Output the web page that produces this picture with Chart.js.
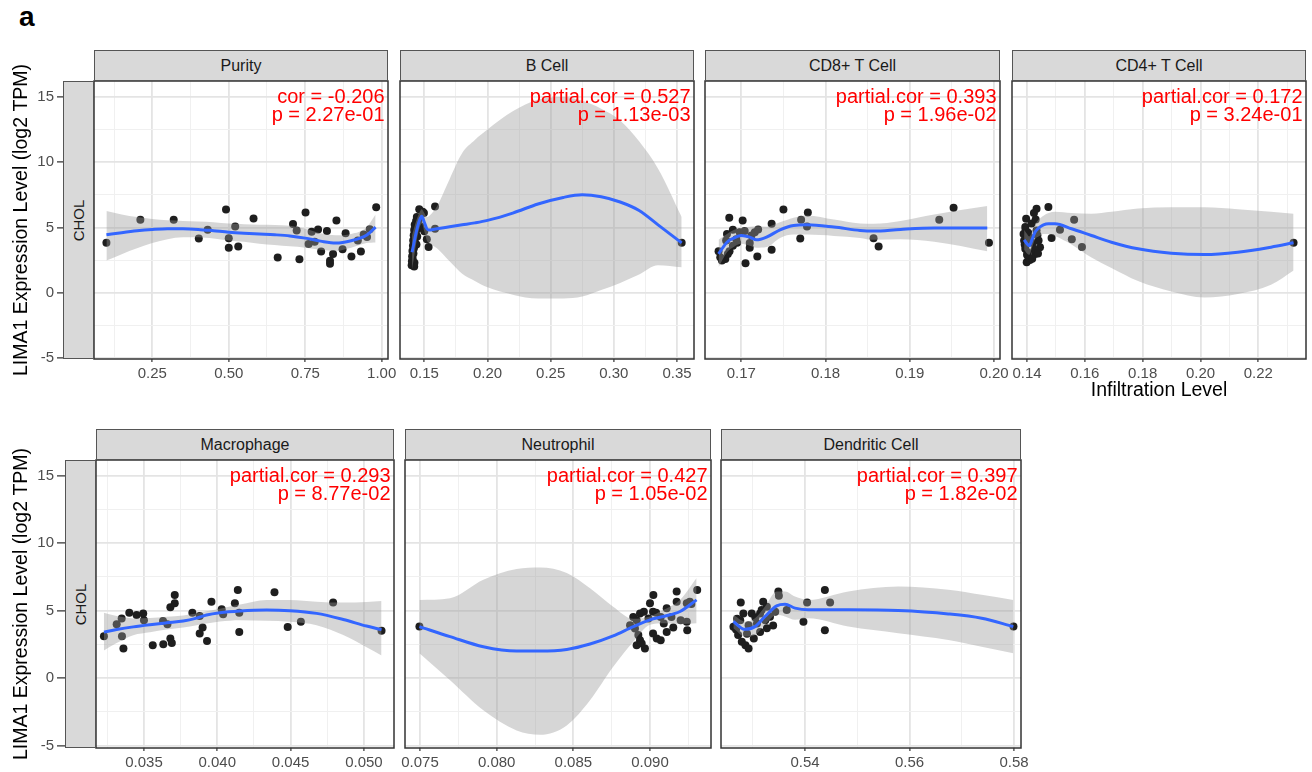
<!DOCTYPE html>
<html>
<head>
<meta charset="utf-8">
<script src="https://cdn.jsdelivr.net/npm/chart.js@4.4.1/dist/chart.umd.min.js"></script>
<style>
  body { margin: 0; background: #fff; width: 1312px; height: 772px; position: relative; overflow: hidden;
         font-family: "Liberation Sans", Arial, Helvetica, sans-serif; }
  canvas { position: absolute; }
  .strip { position: absolute; background: #d9d9d9; border: 1px solid #555; box-sizing: border-box;
           display: flex; align-items: center; justify-content: center; font-size: 16px; color: #1a1a1a; }
  .rowstrip span { display: block; transform: rotate(-90deg); font-size: 15px; white-space: nowrap; }
  .tag { position: absolute; left: 19px; top: 3px; font-size: 28px; font-weight: bold; line-height: 28px; }
</style>
</head>
<body>
<div class="tag">a</div>
<script>
// facet titles and stats text
const panelTitles = ['Purity', 'B Cell', 'CD8+ T Cell', 'CD4+ T Cell', 'Macrophage', 'Neutrophil', 'Dendritic Cell'];
const corLabels = ['cor = -0.206', 'partial.cor = 0.527', 'partial.cor = 0.393', 'partial.cor = 0.172',
                   'partial.cor = 0.293', 'partial.cor = 0.427', 'partial.cor = 0.397'];
const pLabels = ['p = 2.27e-01', 'p = 1.13e-03', 'p = 1.96e-02', 'p = 3.24e-01',
                 'p = 8.77e-02', 'p = 1.05e-02', 'p = 1.82e-02'];
const rowLabel = 'CHOL';
const yTitle = 'LIMA1 Expression Level (log2 TPM)';
const xTitle = 'Infiltration Level';

// Purity
const purityX = [0.100,0.211,0.320,0.402,0.431,0.491,0.500,0.500,0.521,0.531,0.581,0.660,0.710,0.722,0.731,0.751,0.761,0.771,0.781,0.792,0.802,0.821,0.831,0.831,0.841,0.852,0.872,0.882,0.901,0.922,0.932,0.941,0.952,0.961,0.982];
const purityY = [3.82,5.59,5.59,4.15,4.82,6.38,4.18,3.44,5.08,3.54,5.69,2.69,5.26,4.77,2.56,6.15,3.74,4.67,3.90,4.85,3.15,4.72,2.44,2.21,2.97,5.54,3.33,4.56,2.77,4.00,3.15,4.46,4.26,4.87,6.54];
const purityFitX = [0.10,0.15,0.20,0.25,0.30,0.35,0.40,0.45,0.50,0.55,0.60,0.65,0.70,0.75,0.80,0.85,0.90,0.95,0.98];
const purityFitY = [4.44,4.60,4.74,4.84,4.90,4.90,4.85,4.75,4.64,4.56,4.50,4.44,4.35,4.18,3.95,3.80,3.98,4.40,5.03];
const purityHi = [6.26,6.00,5.80,5.65,5.55,5.50,5.45,5.40,5.30,5.25,5.20,5.18,5.12,4.90,4.55,4.40,4.50,5.00,6.00];
const purityLo = [2.46,2.95,3.40,3.80,4.10,4.25,4.25,4.15,4.00,3.90,3.75,3.65,3.55,3.45,3.30,3.20,3.45,3.80,3.85];

// B Cell
const bcellX = [0.1400,0.1402,0.1404,0.1406,0.1408,0.1410,0.1412,0.1414,0.1416,0.1418,0.1420,0.1422,0.1424,0.1426,0.1428,0.1430,0.1432,0.1435,0.1438,0.1441,0.1444,0.1447,0.1450,0.1455,0.1460,0.1470,0.1487,0.1497,0.1500,0.1520,0.1534,0.1585,0.1585,0.1420,0.3537];
const bcellY = [2.1,2.4,2.8,3.2,2.6,3.6,4.0,3.0,4.4,3.4,4.8,2.3,5.2,3.8,4.2,5.0,4.6,5.5,3.7,5.8,4.3,4.9,5.3,5.6,6.4,5.1,6.2,6.1,4.7,4.1,3.5,6.6,4.9,2.0,3.82];
const bcellFitX = [0.1403,0.142,0.144,0.146,0.148,0.150,0.152,0.154,0.157,0.160,0.170,0.180,0.190,0.200,0.220,0.240,0.260,0.275,0.290,0.305,0.320,0.335,0.3537];
const bcellFitY = [3.1,3.9,4.8,5.5,5.85,5.4,4.9,4.8,4.85,4.9,5.05,5.2,5.35,5.54,6.1,6.8,7.3,7.5,7.35,6.95,6.3,5.2,3.82];
const bcellHi = [4.4,5.0,5.6,6.1,6.4,6.1,5.8,5.9,6.2,6.6,8.7,10.7,11.7,12.5,13.9,14.8,15.0,14.7,14.1,13.2,11.6,9.5,5.8];
const bcellLo = [1.8,2.8,4.0,4.9,5.3,4.7,4.0,3.8,3.6,3.4,2.4,1.45,0.9,0.41,-0.15,-0.45,-0.45,-0.3,0.2,0.75,1.4,2.1,1.95];

// CD8+ T Cell
const cd8X = [0.16857,0.17016,0.1750,0.1779,0.1771,0.1778,0.1770,0.1736,0.1736,0.1719,0.1705,0.1710,0.1710,0.1695,0.1690,0.1683,0.1682,0.1686,0.1681,0.1675,0.1673,0.1677,0.1698,0.1704,0.1712,0.1716,0.1720,0.1694,0.1857,0.1863,0.1935,0.1952,0.1994,0.1684,0.1690];
const cd8Y = [5.74,5.54,6.38,6.15,5.59,5.08,4.15,5.28,3.30,2.77,2.26,3.44,3.80,3.82,4.82,4.50,4.00,3.18,2.59,2.72,3.18,2.46,4.64,4.72,4.38,4.64,4.85,4.10,4.18,3.54,5.59,6.51,3.82,2.97,3.60];
const cd8FitX = [0.1673,0.1683,0.1691,0.1700,0.1710,0.1718,0.1730,0.1746,0.1762,0.1778,0.1810,0.1841,0.1857,0.1889,0.1929,0.1992];
const cd8FitY = [2.97,3.87,4.18,4.38,4.26,4.05,4.26,4.82,5.15,5.20,5.03,4.77,4.72,4.85,4.95,4.95];
const cd8Hi = [4.05,4.50,4.80,4.95,5.05,5.10,5.05,5.40,5.75,5.92,5.60,5.30,5.28,5.50,6.00,6.64];
const cd8Lo = [1.95,3.10,3.50,3.75,3.60,3.45,3.50,4.20,4.45,4.45,4.35,4.20,4.05,4.10,3.90,3.18];

// CD4+ T Cell
const cd4X = [0.1474,0.1433,0.1424,0.1397,0.1394,0.1388,0.1390,0.1394,0.1399,0.1405,0.1428,0.1445,0.1440,0.1433,0.1416,0.1408,0.1563,0.1514,0.1485,0.1555,0.1590,0.2322,0.1395,0.1402,0.1410,0.1420,0.1430,0.1436,0.1412,0.1400,0.1392,0.1418,0.1426,0.1404,0.1438];
const cd4Y = [6.56,6.44,6.10,5.67,5.03,4.50,4.00,3.36,2.33,2.70,2.97,3.49,4.00,4.77,5.30,4.26,5.59,4.82,4.20,4.10,3.50,3.82,4.80,3.10,2.50,3.80,5.60,4.40,3.90,2.90,3.70,2.60,3.30,4.60,3.00];
const cd4FitX = [0.1390,0.1400,0.1408,0.1418,0.1428,0.1440,0.1457,0.1475,0.1497,0.1554,0.1623,0.1692,0.1784,0.1899,0.2014,0.2129,0.2244,0.2322];
const cd4FitY = [4.05,3.75,3.60,4.10,4.65,4.95,5.20,5.28,5.28,4.90,4.38,3.87,3.36,3.03,2.92,3.10,3.49,3.82];
const cd4Hi = [4.8,4.5,4.3,4.7,5.2,5.6,5.9,6.1,6.2,6.1,6.05,6.2,6.45,6.55,6.55,6.4,6.2,6.05];
const cd4Lo = [3.3,3.0,2.9,3.5,4.1,4.3,4.5,4.5,4.35,3.7,2.7,1.9,0.9,0.1,-0.36,-0.1,0.6,1.7];

// Macrophage
const macroX = [0.03227,0.03314,0.03348,0.0335,0.0336,0.0340,0.0345,0.03495,0.0350,0.0356,0.0363,0.03632,0.0366,0.0368,0.0368,0.0369,0.0371,0.0371,0.0383,0.0388,0.0388,0.0390,0.0393,0.0396,0.0403,0.0404,0.0412,0.0414,0.0415,0.0415,0.0439,0.0448,0.0457,0.0479,0.0512];
const macroY = [3.11,4.00,4.43,3.11,2.19,4.85,4.68,4.80,4.30,2.44,4.23,2.51,4.00,5.25,2.94,2.61,6.17,5.55,4.85,4.60,3.31,3.76,2.76,5.67,5.10,4.73,5.55,6.54,4.85,3.43,6.37,3.80,4.18,5.60,3.51];
const macroFitX = [0.03227,0.03314,0.03427,0.03541,0.03655,0.03768,0.03859,0.03927,0.04018,0.04155,0.04336,0.04495,0.04677,0.04859,0.05018,0.0512];
const macroFitY = [3.41,3.60,3.80,3.96,4.10,4.23,4.45,4.68,4.85,4.98,5.05,5.00,4.80,4.35,3.86,3.60];
const macroHi = [4.85,4.60,4.43,4.45,4.55,4.65,4.80,4.95,5.15,5.45,5.80,5.80,5.67,5.60,5.65,5.72];
const macroLo = [2.06,2.60,3.18,3.40,3.60,3.75,3.93,4.05,4.20,4.30,4.25,4.18,3.93,3.20,2.30,1.69];

// Neutrophil
const neutroX = [0.07496,0.09022,0.0900,0.09174,0.09308,0.09174,0.09109,0.0924,0.08935,0.0896,0.0902,0.0904,0.08891,0.08913,0.0914,0.0887,0.0924,0.09243,0.09152,0.09109,0.0902,0.09044,0.0907,0.08924,0.08935,0.08913,0.08967,0.08946,0.0909,0.0907,0.0920,0.0926,0.0899,0.08902,0.0927];
const neutroY = [3.82,6.17,5.55,6.42,6.54,5.67,5.18,5.55,4.80,4.93,4.93,4.85,4.53,4.30,4.53,3.93,4.18,3.56,3.76,3.43,3.31,2.94,2.81,3.19,2.81,2.44,2.19,2.57,4.06,4.53,4.30,5.67,4.43,3.68,5.50];
const neutroFitX = [0.07496,0.07696,0.07913,0.0813,0.08283,0.08457,0.08609,0.0876,0.08891,0.0900,0.09087,0.09196,0.09304];
const neutroFitY = [3.82,3.08,2.33,2.01,2.01,2.13,2.53,3.13,3.82,4.32,4.57,4.94,5.80];
const neutroHi = [5.80,5.93,7.30,8.09,8.20,7.80,6.67,5.30,4.40,4.57,5.06,5.80,7.42];
const neutroLo = [1.84,-0.15,-2.38,-3.87,-4.19,-3.50,-1.64,0.84,2.70,3.95,4.07,4.02,4.07];

// Dendritic Cell
const dendX = [0.5277,0.5349,0.5350,0.5320,0.5438,0.5404,0.5365,0.5343,0.5397,0.5438,0.5263,0.5272,0.5282,0.5298,0.5279,0.5286,0.5292,0.5314,0.5327,0.5314,0.5324,0.5333,0.5308,0.5292,0.5276,0.5302,0.5799,0.5448,0.5327,0.5339,0.5270,0.5289,0.5317,0.5268,0.5305];
const dendY = [5.60,6.42,6.10,5.67,6.54,5.60,5.05,4.93,4.18,3.56,3.81,3.19,4.80,4.80,2.69,2.44,2.19,3.43,3.69,4.80,4.30,4.55,4.06,3.93,4.30,2.94,3.82,5.60,5.30,3.90,4.40,3.30,5.05,3.60,4.50];
const dendFitX = [0.52628,0.52852,0.53043,0.53234,0.53458,0.53617,0.53809,0.54064,0.54829,0.55786,0.56743,0.57381,0.57987];
const dendFitY = [4.19,3.62,3.82,4.57,5.36,5.48,5.19,5.06,5.06,5.01,4.76,4.44,3.82];
const dendHi = [4.69,4.19,4.44,5.31,6.43,6.43,6.05,5.80,6.43,6.80,6.55,6.18,5.80];
const dendLo = [3.70,3.08,3.20,3.95,4.69,4.57,4.32,4.44,3.82,3.33,2.83,2.33,1.84];

const series = [
  [purityX, purityY, purityFitX, purityFitY, purityHi, purityLo],
  [bcellX, bcellY, bcellFitX, bcellFitY, bcellHi, bcellLo],
  [cd8X, cd8Y, cd8FitX, cd8FitY, cd8Hi, cd8Lo],
  [cd4X, cd4Y, cd4FitX, cd4FitY, cd4Hi, cd4Lo],
  [macroX, macroY, macroFitX, macroFitY, macroHi, macroLo],
  [neutroX, neutroY, neutroFitX, neutroFitY, neutroHi, neutroLo],
  [dendX, dendY, dendFitX, dendFitY, dendHi, dendLo]
];

// panel boxes (plot area in page pixels) and axis settings
const boxes = [
  {l: 94,  t: 81,  r: 388,  b: 359, ymin: -5.08, ymax: 16.22, xmin: 0.0594,  xmax: 1.0206,  step: 0.125,  major: 0.25,  dec: 2, yaxis: true},
  {l: 400, t: 81,  r: 694,  b: 359, ymin: -5.08, ymax: 16.22, xmin: 0.13077, xmax: 0.36345, step: 0.025,  major: 0.05,  dec: 2},
  {l: 705, t: 81,  r: 1000, b: 359, ymin: -5.08, ymax: 16.22, xmin: 0.16569, xmax: 0.20071, step: 0.005,  major: 0.01,  dec: 2},
  {l: 1012,t: 81,  r: 1306, b: 359, ymin: -5.08, ymax: 16.22, xmin: 0.13481, xmax: 0.2365,  step: 0.01,   major: 0.02,  dec: 2, xtitle: true},
  {l: 96,  t: 460, r: 394,  b: 748, ymin: -5.17, ymax: 16.16, xmin: 0.03173, xmax: 0.05205, step: 0.0025, major: 0.005, dec: 3, yaxis: true},
  {l: 405, t: 460, r: 711,  b: 748, ymin: -5.17, ymax: 16.16, xmin: 0.07402, xmax: 0.09398, step: 0.0025, major: 0.005, dec: 3},
  {l: 721, t: 460, r: 1021, b: 748, ymin: -5.17, ymax: 16.16, xmin: 0.52392, xmax: 0.58134, step: 0.01,   major: 0.02,  dec: 2}
];

Chart.defaults.font.family = '"Liberation Sans", Arial, Helvetica, sans-serif';

const isMajor = (v, m) => Math.abs(v / m - Math.round(v / m)) < 1e-6;

// red stats text + dark panel border
const panelDecor = {
  id: 'panelDecor',
  afterDatasetsDraw(chart, args, opts) {
    const ctx = chart.ctx, a = chart.chartArea;
    ctx.save();
    ctx.fillStyle = '#ff0000';
    ctx.font = '20px "Liberation Sans", Arial, sans-serif';
    ctx.textAlign = 'right';
    ctx.textBaseline = 'alphabetic';
    ctx.fillText(opts.cor, a.right - 3.5, a.top + 21.5);
    ctx.fillText(opts.p, a.right - 3.5, a.top + 40);
    ctx.strokeStyle = '#333';
    ctx.lineWidth = 1.5;
    ctx.strokeRect(a.left, a.top, a.right - a.left, a.bottom - a.top);
    ctx.restore();
  }
};

function toXY(xs, ys) {
  return xs.map((x, i) => ({x: x, y: ys[i]}));
}

function addDiv(cls, l, t, w, h, html) {
  const d = document.createElement('div');
  d.className = cls;
  d.style.left = l + 'px'; d.style.top = t + 'px';
  d.style.width = w + 'px'; d.style.height = h + 'px';
  d.innerHTML = html;
  document.body.appendChild(d);
}

boxes.forEach((bx, i) => {
  const [px, py, fx, fy, hi, lo] = series[i];
  const padL = bx.yaxis ? 0 : 12, padR = 12, padT = 26;
  const yw = bx.yaxis ? bx.l - 6 : 0;
  const xh = bx.xtitle ? 47 : 26;
  const W = (bx.r - bx.l) + yw + padL + padR;
  const H = (bx.b - bx.t) + padT + xh;

  const cv = document.createElement('canvas');
  cv.width = W; cv.height = H;
  cv.style.width = W + 'px'; cv.style.height = H + 'px';
  cv.style.left = (bx.l - yw - padL) + 'px';
  cv.style.top = (bx.t - padT) + 'px';
  document.body.appendChild(cv);

  new Chart(cv, {
    type: 'scatter',
    data: {
      datasets: [
        {type: 'line', data: toXY(fx, fy), borderColor: '#3366ff', borderWidth: 3,
         pointRadius: 0, fill: false, cubicInterpolationMode: 'monotone'},
        {type: 'line', data: toXY(fx, hi), borderWidth: 0, borderColor: 'rgba(0,0,0,0)', pointRadius: 0,
         fill: '+1', backgroundColor: 'rgba(153,153,153,0.4)', cubicInterpolationMode: 'monotone'},
        {type: 'line', data: toXY(fx, lo), borderWidth: 0, borderColor: 'rgba(0,0,0,0)', pointRadius: 0,
         fill: false, cubicInterpolationMode: 'monotone'},
        {data: toXY(px, py), backgroundColor: '#1e1e1e', borderWidth: 0, pointRadius: 4}
      ]
    },
    options: {
      responsive: false,
      devicePixelRatio: 1,
      animation: false,
      layout: {padding: {left: padL, right: padR, top: padT, bottom: 0}},
      plugins: {
        legend: {display: false},
        tooltip: {enabled: false},
        panelDecor: {cor: corLabels[i], p: pLabels[i]}
      },
      scales: {
        x: {
          type: 'linear', min: bx.xmin, max: bx.xmax,
          border: {display: false},
          grid: {
            color: c => isMajor(c.tick.value, bx.major) ? '#e4e4e4' : '#f0f0f0',
            lineWidth: c => isMajor(c.tick.value, bx.major) ? 1.8 : 1,
            tickLength: 3,
            tickColor: c => isMajor(c.tick.value, bx.major) ? '#333' : 'rgba(0,0,0,0)',
            tickWidth: 1.2
          },
          ticks: {
            stepSize: bx.step, includeBounds: false, autoSkip: false, maxRotation: 0, padding: 3,
            color: '#4d4d4d', font: {size: 15},
            callback: v => isMajor(v, bx.major) ? v.toFixed(bx.dec) : ''
          },
          title: {display: !!bx.xtitle, text: xTitle, color: '#000',
                  font: {size: 19.5, lineHeight: 1.2}, padding: {top: 0, bottom: 4}},
          afterFit: s => { s.height = xh; }
        },
        y: {
          min: bx.ymin, max: bx.ymax,
          border: {display: false},
          grid: {
            color: c => isMajor(c.tick.value, 5) ? '#e4e4e4' : '#f0f0f0',
            lineWidth: c => isMajor(c.tick.value, 5) ? 1.8 : 1,
            drawTicks: !!bx.yaxis,
            tickLength: bx.l - 57,
            tickColor: c => isMajor(c.tick.value, 5) ? '#333' : 'rgba(0,0,0,0)',
            tickWidth: 1.2
          },
          ticks: {
            display: !!bx.yaxis, stepSize: 2.5, includeBounds: false, autoSkip: false, padding: 3,
            color: '#4d4d4d', font: {size: 15},
            callback: v => isMajor(v, 5) ? v.toFixed(0) : ''
          },
          title: {display: !!bx.yaxis, text: yTitle, color: '#000',
                  font: {size: 19.5, lineHeight: 1.2}, padding: {top: 4, bottom: 0}},
          afterFit: s => { s.width = yw; }
        }
      }
    },
    plugins: [panelDecor]
  });

  // facet header
  addDiv('strip', bx.l, bx.t - 31, bx.r - bx.l, 31, panelTitles[i]);
  // row strip on left column
  if (bx.yaxis) {
    addDiv('strip rowstrip', bx.l - 31, bx.t, 31, bx.b - bx.t, '<span>' + rowLabel + '</span>');
  }
});
</script>
</body>
</html>
